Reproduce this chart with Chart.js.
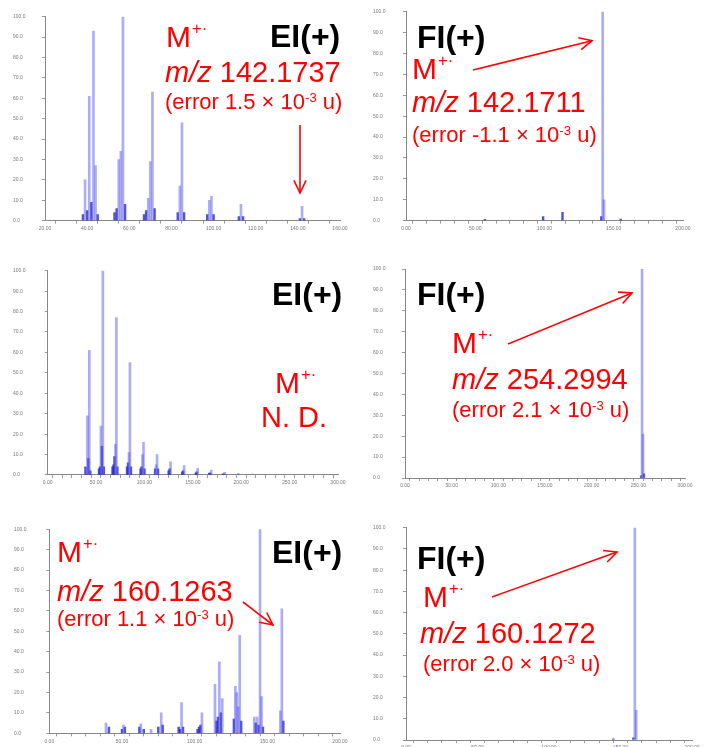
<!DOCTYPE html>
<html><head><meta charset="utf-8">
<script src="https://cdn.jsdelivr.net/npm/chart.js@4.4.1/dist/chart.umd.min.js"></script>
<style>
html,body{margin:0;padding:0;background:#fff;width:709px;height:747px;overflow:hidden}
#wrap{position:relative;width:709px;height:747px}
canvas{position:absolute;left:0;top:0}
.t{position:absolute;white-space:nowrap;font-family:"Liberation Sans",Arial,sans-serif;line-height:1;color:#f00}
.b{color:#000;font-weight:bold}
.sp{position:relative;font-size:0.55em;top:-0.78em;margin-left:1px}
.se{position:relative;font-size:0.6em;top:-0.55em}
svg{position:absolute;left:0;top:0}
</style></head>
<body><div id="wrap"></div>
<script>
// ---------- DATA ----------
// Panel 1: EI(+), m/z 142
const ei1Mz   = [39,41,43,44,55,56,57,69,70,71,84,85,98,99,113,142];
const ei1Int  = [20,61,93,27,30,34,100,11,29,63,17,48,10,12,8,7];
const ei1MinorMz  = [38,40,42,45,53,54,58,67,68,72,83,86,97,100,112,114,141,143];
const ei1MinorInt = [3,5,9,3,4,6,8,3,5,6,4,4,3,3,2,2,1,1];
const ei1XLabels  = [20,40,60,80,100,120,140,160];

// Panel 2: FI(+), m/z 142
const fi1Mz   = [142,143];
const fi1Int  = [100,10];
const fi1MinorMz  = [57,99,113,141,155];
const fi1MinorInt = [0.6,2,4,2,0.8];
const fi1XLabels  = [0,50,100,150,200];

// Panel 3: EI(+), M+. not detected
const ei2Mz   = [41,43,55,57,70,71,84,85,98,99,112,113,127,141,155,169,183,197,211,225];
const ei2Int  = [29,61,24,100,15,77,11,55,10,16,5,10,6.5,4.6,3.3,2.4,1.3,0.8,0.5,0.3];
const ei2MinorMz  = [39,42,44,53,54,56,58,67,68,69,72,82,83,86,96,97,100,111,114,125,126,139,140,153,154,167,168,181,182];
const ei2MinorInt = [4,8,2,3,4,14,4,4,5,9,4,4,6,4,3,4,3,3,3,2,3,1.5,2,1,1.5,1,1,0.5,0.6];
const ei2XLabels  = [0,50,100,150,200,250,300];

// Panel 4: FI(+), m/z 254
const fi2Mz   = [254,255];
const fi2Int  = [100,21];
const fi2MinorMz  = [253,256];
const fi2MinorInt = [1,2];
const fi2XLabels  = [0,50,100,150,200,250,300];

// Panel 5: EI(+), m/z 160
const ei3Mz   = [39,51,63,70,77,91,105,114,117,119,128,129,130,131,141,143,145,146,159,160];
const ei3Int  = [5,4,4.6,2,10,15,10,24,35,17,23,20,13,48,8,8,100,18,11,61];
const ei3MinorMz  = [41,50,52,62,65,75,78,89,90,92,102,103,104,115,116,118,127,132,142,144,147,161];
const ei3MinorInt = [3,2,3,3,2,3,4,3,2,3,2,3,4,6,8,10,7,6,5,4,3,6];
const ei3XLabels  = [0,50,100,150,200];

// Panel 6: FI(+), m/z 160
const fi3Mz   = [160,161];
const fi3Int  = [100,14];
const fi3MinorMz  = [145,159];
const fi3MinorInt = [0.5,1];
const fi3XLabels  = [0,50,100,150,200];

const yLabels = [0,10,20,30,40,50,60,70,80,90,100];

// ---------- LAYOUT / STYLE ----------
const W = 709, H = 747, XH = 14;
const panels = [
  {mz:ei1Mz, it:ei1Int, mmz:ei1MinorMz, mit:ei1MinorInt, xl:ei1XLabels, step:10, area:{l:45,t:16.7,r:340,b:220.7}, yl:13},
  {mz:fi1Mz, it:fi1Int, mmz:fi1MinorMz, mit:fi1MinorInt, xl:fi1XLabels, step:10, area:{l:406,t:11.7,r:683,b:220.7}, yl:373},
  {mz:ei2Mz, it:ei2Int, mmz:ei2MinorMz, mit:ei2MinorInt, xl:ei2XLabels, step:10, area:{l:47.7,t:270.7,r:338,b:475}, yl:13},
  {mz:fi2Mz, it:fi2Int, mmz:fi2MinorMz, mit:fi2MinorInt, xl:fi2XLabels, step:10, area:{l:405,t:269,r:685,b:478}, yl:373},
  {mz:ei3Mz, it:ei3Int, mmz:ei3MinorMz, mit:ei3MinorInt, xl:ei3XLabels, step:10, area:{l:49.3,t:529.3,r:340,b:733.3}, yl:14},
  {mz:fi3Mz, it:fi3Int, mmz:fi3MinorMz, mit:fi3MinorInt, xl:fi3XLabels, step:10, area:{l:406,t:527.7,r:692,b:740}, yl:373}
];

const wrap = document.getElementById('wrap');
panels.forEach(p => {
  const c = document.createElement('canvas');
  c.width = W; c.height = H;
  c.style.width = W + 'px'; c.style.height = H + 'px';
  wrap.appendChild(c);
  const YW = p.area.l - p.yl;
  const xmin = p.xl[0], xmax = p.xl[p.xl.length - 1];
  new Chart(c, {
    type: 'bar',
    data: {datasets: [
      {data: p.mz.map((m,i)=>({x:m, y:p.it[i]})), backgroundColor:'rgba(90,90,240,0.5)', barThickness:2, grouped:false},
      {data: p.mmz.map((m,i)=>({x:m, y:p.mit[i]})), backgroundColor:'rgba(40,40,200,0.8)', barThickness:1.8, grouped:false}
    ]},
    options: {
      responsive:false, animation:false, events:[],
      layout:{padding:{left:p.yl, top:p.area.t, right:W - p.area.r, bottom:H - p.area.b - XH}},
      plugins:{legend:{display:false}, tooltip:{enabled:false}},
      scales:{
        x:{type:'linear', min:xmin, max:xmax, offset:false,
           grid:{display:true, drawOnChartArea:false, drawTicks:true, tickLength:3, color:'#999'},
           border:{display:true, color:'#888'},
           ticks:{stepSize:p.step, autoSkip:false, maxRotation:0, minRotation:0, padding:2,
                  font:{size:5, family:'Liberation Sans'}, color:'#777',
                  callback:(v)=> p.xl.includes(v) ? v.toFixed(2) : ''},
           afterFit(s){ s.height = XH; }},
        y:{min:0, max:100,
           grid:{display:true, drawOnChartArea:false, drawTicks:true, tickLength:3, color:'#999'},
           border:{display:true, color:'#888'},
           ticks:{stepSize:10, autoSkip:false, crossAlign:'far', font:{size:5, family:'Liberation Sans'}, color:'#777',
                  callback:(v)=> yLabels.includes(v) ? v.toFixed(1) : ''},
           afterFit(s){ s.width = YW; }}
      }
    }
  });
});

// ---------- ANNOTATIONS ----------
const M = 'M<span class="sp">+·</span>';
const texts = [
  // panel 1
  [270,47,32,'EI(+)','b'], [166,47,30,M,''], [165,83,29,'<i>m/z</i> 142.1737',''],
  [165,110,22,'(error 1.5 × 10<span class="se">-3</span> u)',''],
  // panel 2
  [417,48,32,'FI(+)','b'], [412,79,30,M,''], [412,113,29,'<i>m/z</i> 142.1711',''],
  [412,143,22,'(error -1.1 × 10<span class="se">-3</span> u)',''],
  // panel 3
  [272,305,32,'EI(+)','b'], [275,393,30,M,''], [261,428,29,'N. D.',''],
  // panel 4
  [417,305,32,'FI(+)','b'], [452,353,30,M,''], [452,390,29,'<i>m/z</i> 254.2994',''],
  [452,418,22,'(error 2.1 × 10<span class="se">-3</span> u)',''],
  // panel 5
  [57,562,30,M,''], [57,602,29,'<i>m/z</i> 160.1263',''],
  [57,627,22,'(error 1.1 × 10<span class="se">-3</span> u)',''], [272,563,32,'EI(+)','b'],
  // panel 6
  [417,569,32,'FI(+)','b'], [423,607,30,M,''], [420,644,29,'<i>m/z</i> 160.1272',''],
  [423,672,22,'(error 2.0 × 10<span class="se">-3</span> u)','']
];
texts.forEach(([x,base,fs,html,cls]) => {
  const d = document.createElement('div');
  d.className = 't ' + cls;
  d.style.left = x + 'px';
  d.style.top = (base - 0.8465*fs) + 'px';
  d.style.fontSize = fs + 'px';
  d.innerHTML = html;
  wrap.appendChild(d);
});

const arrows = [[300,125,300,193],[473,70,592,40.7],[508,344,632,293],[243,602,273,625],[492,597,617,552]];
let svg = '<svg width="709" height="747" xmlns="http://www.w3.org/2000/svg">';
arrows.forEach(([x1,y1,x2,y2]) => {
  const a = Math.atan2(y2-y1, x2-x1), L = 14, s = 0.45;
  const p1 = [x2 - L*Math.cos(a-s), y2 - L*Math.sin(a-s)];
  const p2 = [x2 - L*Math.cos(a+s), y2 - L*Math.sin(a+s)];
  svg += `<line x1="${x1}" y1="${y1}" x2="${x2}" y2="${y2}" stroke="#f00" stroke-width="1.6"/>`;
  svg += `<polyline points="${p1[0]},${p1[1]} ${x2},${y2} ${p2[0]},${p2[1]}" fill="none" stroke="#f00" stroke-width="1.6"/>`;
});
svg += '</svg>';
wrap.insertAdjacentHTML('beforeend', svg);
</script>
</body></html>
